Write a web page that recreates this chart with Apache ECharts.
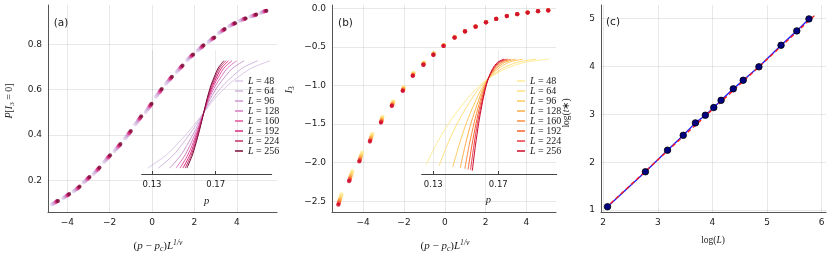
<!DOCTYPE html>
<html><head><meta charset="utf-8">
<script src="https://cdn.jsdelivr.net/npm/echarts@6/dist/echarts.min.js"></script>
<style>html,body{margin:0;padding:0;background:#fff}#c{width:830px;height:253px}</style>
</head><body><div id="c"></div>
<script>
// ---------- data ----------
const Ls = [48, 64, 96, 128, 160, 192, 224, 256];

// panel (a): collapsed P[I3=0] vs (p-pc)L^{1/nu}, [x, y] per L
const aL48  = [[-4.72,0.094],[-4.19,0.122],[-3.70,0.151],[-3.23,0.190],[-2.76,0.228],[-2.26,0.281],[-1.77,0.329],[-1.28,0.384],[-0.79,0.447],[-0.30,0.501],[0.18,0.568],[0.66,0.626],[1.16,0.678],[1.66,0.730],[2.15,0.772],[2.66,0.810],[3.15,0.849],[3.64,0.879],[4.14,0.903],[4.64,0.921],[5.12,0.938]];
const aL64  = [[-4.65,0.098],[-4.12,0.126],[-3.63,0.156],[-3.16,0.196],[-2.69,0.235],[-2.19,0.288],[-1.70,0.337],[-1.21,0.392],[-0.72,0.455],[-0.23,0.511],[0.25,0.576],[0.73,0.634],[1.23,0.685],[1.73,0.737],[2.22,0.778],[2.73,0.815],[3.22,0.853],[3.71,0.883],[4.21,0.906],[4.71,0.924],[5.19,0.941]];
const aL96  = [[-4.59,0.101],[-4.06,0.130],[-3.57,0.160],[-3.10,0.201],[-2.63,0.241],[-2.13,0.295],[-1.64,0.343],[-1.15,0.399],[-0.66,0.463],[-0.17,0.518],[0.31,0.584],[0.79,0.640],[1.29,0.691],[1.79,0.742],[2.28,0.783],[2.79,0.820],[3.28,0.857],[3.77,0.886],[4.27,0.908],[4.77,0.926],[5.25,0.943]];
const aL128 = [[-4.55,0.103],[-4.02,0.132],[-3.53,0.163],[-3.06,0.205],[-2.59,0.245],[-2.09,0.299],[-1.60,0.348],[-1.11,0.404],[-0.62,0.468],[-0.13,0.524],[0.35,0.589],[0.83,0.645],[1.33,0.695],[1.83,0.746],[2.32,0.786],[2.83,0.822],[3.32,0.860],[3.81,0.888],[4.31,0.910],[4.81,0.927],[5.29,0.944]];
const aL160 = [[-4.52,0.105],[-3.99,0.134],[-3.50,0.166],[-3.03,0.207],[-2.56,0.248],[-2.06,0.302],[-1.57,0.351],[-1.08,0.408],[-0.59,0.471],[-0.10,0.527],[0.38,0.592],[0.86,0.648],[1.36,0.698],[1.86,0.748],[2.35,0.788],[2.86,0.825],[3.35,0.862],[3.84,0.889],[4.34,0.911],[4.84,0.928],[5.32,0.945]];
const aL192 = [[-4.50,0.106],[-3.97,0.135],[-3.48,0.167],[-3.01,0.209],[-2.54,0.250],[-2.04,0.304],[-1.55,0.353],[-1.06,0.410],[-0.57,0.474],[-0.08,0.530],[0.40,0.595],[0.88,0.650],[1.38,0.700],[1.88,0.750],[2.37,0.790],[2.88,0.826],[3.37,0.863],[3.86,0.890],[4.36,0.912],[4.86,0.929],[5.34,0.946]];
const aL224 = [[-4.47,0.108],[-3.94,0.137],[-3.45,0.169],[-2.98,0.212],[-2.51,0.253],[-2.01,0.307],[-1.52,0.356],[-1.03,0.414],[-0.54,0.478],[-0.05,0.534],[0.43,0.599],[0.91,0.653],[1.41,0.703],[1.91,0.753],[2.40,0.792],[2.91,0.828],[3.40,0.865],[3.89,0.892],[4.39,0.913],[4.89,0.930],[5.37,0.947]];
const aL256 = [[-4.44,0.109],[-3.91,0.139],[-3.42,0.172],[-2.95,0.214],[-2.48,0.256],[-1.98,0.310],[-1.49,0.360],[-1.00,0.417],[-0.51,0.482],[-0.02,0.538],[0.46,0.603],[0.94,0.657],[1.44,0.706],[1.94,0.755],[2.43,0.795],[2.94,0.830],[3.43,0.867],[3.92,0.893],[4.42,0.914],[4.92,0.931],[5.40,0.948]];

// panel (b): collapsed I3 vs (p-pc)L^{1/nu}, [x, y] per L
const bL48  = [[-5.06,-2.410],[-4.53,-2.110],[-4.05,-1.870],[-3.55,-1.626],[-3.05,-1.405],[-2.52,-1.205],[-2.01,-1.020],[-1.53,-0.836],[-1.02,-0.703],[-0.54,-0.579],[-0.05,-0.473],[0.49,-0.370],[0.99,-0.295],[1.51,-0.235],[2.02,-0.180],[2.52,-0.137],[3.04,-0.099],[3.55,-0.075],[4.06,-0.054],[4.57,-0.036],[5.07,-0.026]];
const bL64  = [[-5.09,-2.434],[-4.56,-2.133],[-4.08,-1.891],[-3.57,-1.644],[-3.07,-1.419],[-2.54,-1.216],[-2.02,-1.029],[-1.54,-0.843],[-1.03,-0.708],[-0.54,-0.584],[-0.05,-0.476],[0.49,-0.372],[0.99,-0.296],[1.51,-0.236],[2.02,-0.180],[2.52,-0.137],[3.04,-0.099],[3.55,-0.075],[4.06,-0.054],[4.57,-0.036],[5.07,-0.026]];
const bL96  = [[-5.12,-2.461],[-4.59,-2.159],[-4.10,-1.914],[-3.60,-1.664],[-3.08,-1.434],[-2.55,-1.228],[-2.03,-1.039],[-1.55,-0.851],[-1.03,-0.714],[-0.55,-0.589],[-0.05,-0.479],[0.49,-0.374],[0.99,-0.297],[1.51,-0.236],[2.02,-0.180],[2.52,-0.137],[3.04,-0.099],[3.55,-0.075],[4.06,-0.054],[4.57,-0.036],[5.07,-0.026]];
const bL128 = [[-5.15,-2.483],[-4.62,-2.180],[-4.13,-1.932],[-3.62,-1.680],[-3.09,-1.446],[-2.56,-1.237],[-2.04,-1.047],[-1.55,-0.858],[-1.04,-0.719],[-0.55,-0.593],[-0.06,-0.481],[0.48,-0.375],[0.99,-0.298],[1.51,-0.237],[2.02,-0.181],[2.52,-0.138],[3.04,-0.100],[3.55,-0.076],[4.06,-0.055],[4.57,-0.037],[5.07,-0.027]];
const bL160 = [[-5.17,-2.502],[-4.64,-2.198],[-4.15,-1.948],[-3.63,-1.694],[-3.10,-1.456],[-2.57,-1.246],[-2.04,-1.054],[-1.56,-0.863],[-1.04,-0.723],[-0.55,-0.596],[-0.06,-0.483],[0.48,-0.377],[0.99,-0.298],[1.51,-0.237],[2.02,-0.181],[2.52,-0.138],[3.04,-0.100],[3.55,-0.076],[4.06,-0.055],[4.57,-0.037],[5.07,-0.027]];
const bL192 = [[-5.19,-2.518],[-4.66,-2.214],[-4.16,-1.962],[-3.65,-1.706],[-3.11,-1.465],[-2.58,-1.253],[-2.05,-1.060],[-1.56,-0.868],[-1.04,-0.727],[-0.56,-0.599],[-0.06,-0.485],[0.48,-0.378],[0.99,-0.299],[1.51,-0.238],[2.02,-0.181],[2.52,-0.138],[3.04,-0.100],[3.55,-0.076],[4.06,-0.055],[4.57,-0.037],[5.07,-0.027]];
const bL224 = [[-5.20,-2.532],[-4.67,-2.227],[-4.18,-1.974],[-3.66,-1.716],[-3.12,-1.473],[-2.59,-1.259],[-2.06,-1.065],[-1.57,-0.872],[-1.05,-0.730],[-0.56,-0.602],[-0.06,-0.487],[0.48,-0.379],[0.99,-0.300],[1.51,-0.238],[2.02,-0.181],[2.52,-0.138],[3.04,-0.100],[3.55,-0.076],[4.06,-0.055],[4.57,-0.037],[5.07,-0.027]];
const bL256 = [[-5.22,-2.545],[-4.69,-2.240],[-4.19,-1.985],[-3.67,-1.726],[-3.13,-1.480],[-2.60,-1.265],[-2.06,-1.070],[-1.57,-0.876],[-1.05,-0.733],[-0.56,-0.604],[-0.06,-0.488],[0.48,-0.380],[0.99,-0.300],[1.51,-0.238],[2.02,-0.181],[2.52,-0.138],[3.04,-0.100],[3.55,-0.076],[4.06,-0.055],[4.57,-0.037],[5.07,-0.027]];

// inset (a): P[I3=0] vs p; shared P levels, p per L
const insetA_P    = [0.106,0.209,0.304,0.410,0.530,0.650,0.750,0.826,0.890,0.946];
const insetA_p48  = [0.1273,0.1390,0.1466,0.1542,0.1619,0.1694,0.1772,0.1850,0.1927,0.2042];
const insetA_p64  = [0.1340,0.1435,0.1496,0.1558,0.1620,0.1681,0.1744,0.1807,0.1869,0.1963];
const insetA_p96  = [0.1411,0.1482,0.1528,0.1575,0.1621,0.1667,0.1715,0.1762,0.1809,0.1879];
const insetA_p128 = [0.1451,0.1508,0.1546,0.1584,0.1622,0.1659,0.1698,0.1737,0.1775,0.1832];
const insetA_p160 = [0.1476,0.1525,0.1558,0.1590,0.1622,0.1654,0.1687,0.1720,0.1753,0.1802];
const insetA_p192 = [0.1494,0.1538,0.1566,0.1594,0.1623,0.1651,0.1680,0.1709,0.1737,0.1780];
const insetA_p224 = [0.1508,0.1547,0.1572,0.1597,0.1623,0.1648,0.1674,0.1700,0.1725,0.1764];
const insetA_p256 = [0.1519,0.1554,0.1577,0.1600,0.1623,0.1646,0.1669,0.1693,0.1716,0.1751];

// inset (b): I3 vs p per L
const insetB_p48  = [0.1256,0.1330,0.1408,0.1487,0.1561,0.1638,0.1749,0.1862,0.2011];
const insetB_p64  = [0.1336,0.1394,0.1456,0.1518,0.1577,0.1638,0.1726,0.1815,0.1933];
const insetB_p96  = [0.1420,0.1463,0.1507,0.1552,0.1594,0.1638,0.1701,0.1765,0.1850];
const insetB_p128 = [0.1466,0.1499,0.1534,0.1570,0.1603,0.1638,0.1688,0.1739,0.1806];
const insetB_p160 = [0.1494,0.1522,0.1552,0.1581,0.1609,0.1638,0.1680,0.1722,0.1778];
const insetB_p192 = [0.1514,0.1538,0.1564,0.1589,0.1613,0.1638,0.1674,0.1710,0.1759];
const insetB_p224 = [0.1529,0.1550,0.1572,0.1595,0.1616,0.1638,0.1670,0.1702,0.1745];
const insetB_p256 = [0.1540,0.1559,0.1579,0.1599,0.1618,0.1638,0.1666,0.1695,0.1734];
const insetB_I48  = [-2.410,-1.870,-1.405,-1.020,-0.703,-0.465,-0.235,-0.100,-0.027];
const insetB_I64  = [-2.434,-1.891,-1.419,-1.029,-0.708,-0.466,-0.236,-0.100,-0.027];
const insetB_I96  = [-2.461,-1.914,-1.434,-1.039,-0.714,-0.467,-0.236,-0.100,-0.027];
const insetB_I128 = [-2.483,-1.932,-1.446,-1.047,-0.719,-0.468,-0.237,-0.100,-0.027];
const insetB_I160 = [-2.502,-1.948,-1.456,-1.054,-0.723,-0.468,-0.237,-0.100,-0.027];
const insetB_I192 = [-2.518,-1.962,-1.465,-1.060,-0.727,-0.469,-0.237,-0.100,-0.027];
const insetB_I224 = [-2.532,-1.974,-1.473,-1.065,-0.730,-0.469,-0.238,-0.100,-0.027];
const insetB_I256 = [-2.545,-1.985,-1.480,-1.070,-0.733,-0.470,-0.238,-0.100,-0.027];

// panel (c): log(t*) vs log(L)
const logL     = [2.079,2.773,3.178,3.466,3.689,3.871,4.025,4.159,4.382,4.564,4.852,5.257,5.545,5.768];
const logTstar = [1.07,1.80,2.25,2.56,2.82,2.98,3.14,3.29,3.53,3.71,3.99,4.44,4.74,4.99];
const fitX = [2.04, 5.90];
const fitY = [1.04, 5.09];

const insetTicks = [0.13, 0.17];

// ---------- styling ----------
const colorsA = ['#dccae8','#d1b5dd','#cc99d0','#d879c1','#e2529e','#d8287c','#c0306a','#7a0c3a'];
const colorsB = ['#ffec9a','#fee07e','#fec95e','#feac48','#fd8e40','#f8602e','#e8384a','#cc0a2a'];
const SANS = 'DejaVu Sans';
const SERIF = 'Liberation Serif';
const TXT = '#1a1a1a';

const aSets = [aL48,aL64,aL96,aL128,aL160,aL192,aL224,aL256];
const bSets = [bL48,bL64,bL96,bL128,bL160,bL192,bL224,bL256];
const iaP = [insetA_p48,insetA_p64,insetA_p96,insetA_p128,insetA_p160,insetA_p192,insetA_p224,insetA_p256];
const ibP = [insetB_p48,insetB_p64,insetB_p96,insetB_p128,insetB_p160,insetB_p192,insetB_p224,insetB_p256];
const ibI = [insetB_I48,insetB_I64,insetB_I96,insetB_I128,insetB_I160,insetB_I192,insetB_I224,insetB_I256];

function fmt(d){ return v => (v < 0 ? '\u2212' : '') + Math.abs(v).toFixed(d); }

function mainAxis(grid, min, max, dec){
  return {type:'value', gridIndex:grid, min:min, max:max,
    axisLine:{show:true, onZero:false, lineStyle:{color:'#555', width:1}},
    axisTick:{show:false},
    axisLabel:{showMinLabel:false, showMaxLabel:false, fontFamily:SANS, fontSize:9, color:TXT, margin:6, formatter:fmt(dec)},
    splitLine:{show:true, showMinLine:false, showMaxLine:false, lineStyle:{color:'rgba(0,0,0,0.09)', width:1}}
  };
}
function insetX(grid, min, max){
  return {type:'value', gridIndex:grid, min:min, max:max,
    axisLine:{show:true, onZero:false, lineStyle:{color:'#444', width:1}},
    axisTick:{show:true, inside:true, length:3, customValues:insetTicks, lineStyle:{color:'#444'}},
    axisLabel:{customValues:insetTicks, fontFamily:SANS, fontSize:8.5, color:TXT, margin:6, formatter:fmt(2)},
    splitLine:{show:false}
  };
}
function hiddenY(grid, min, max){
  return {type:'value', gridIndex:grid, min:min, max:max, show:false, splitLine:{show:false}};
}

const series = [];
Ls.forEach((L,i) => {
  series.push({type:'scatter', name:'sa'+L, xAxisIndex:0, yAxisIndex:0, data:aSets[i], symbol:'circle', symbolSize:4, itemStyle:{color:colorsA[i]}, silent:true, z:3});
});
Ls.forEach((L,i) => {
  series.push({type:'scatter', name:'sb'+L, xAxisIndex:2, yAxisIndex:2, data:bSets[i], symbol:'circle', symbolSize:4.2, itemStyle:{color:colorsB[i]}, silent:true, z:3});
});
const gridMark = {silent:true, symbol:'none', label:{show:false}, lineStyle:{color:'rgba(0,0,0,0.08)', type:'solid', width:1}, data:[{xAxis:0.13},{xAxis:0.17}]};
Ls.forEach((L,i) => {
  const s = {type:'line', name:'a'+L, xAxisIndex:1, yAxisIndex:1, data:iaP[i].map((p,j)=>[p, insetA_P[j]]), showSymbol:false, smooth:0.3, lineStyle:{color:colorsA[i], width:1}, itemStyle:{color:colorsA[i]}, silent:true, z:4};
  if (i === 0) s.markLine = gridMark;
  series.push(s);
});
Ls.forEach((L,i) => {
  const s = {type:'line', name:'b'+L, xAxisIndex:3, yAxisIndex:3, data:ibP[i].map((p,j)=>[p, ibI[i][j]]), showSymbol:false, smooth:0.3, lineStyle:{color:colorsB[i], width:1}, itemStyle:{color:colorsB[i]}, silent:true, z:4};
  if (i === 0) s.markLine = gridMark;
  series.push(s);
});
series.push({type:'line', xAxisIndex:4, yAxisIndex:4, data:logL.map((x,j)=>[x, logTstar[j]]), showSymbol:false, lineStyle:{color:'#1f1fff', width:1.4}, silent:true, z:3});
series.push({type:'line', xAxisIndex:4, yAxisIndex:4, data:fitX.map((x,j)=>[x, fitY[j]]), showSymbol:false, lineStyle:{color:'#ff1a1a', width:1.4, type:[4,3]}, silent:true, z:4});
series.push({type:'scatter', xAxisIndex:4, yAxisIndex:4, data:logL.map((x,j)=>[x, logTstar[j]]), symbol:'circle', symbolSize:6.5, itemStyle:{color:'#000080', borderColor:'#000', borderWidth:0.8, opacity:1}, silent:true, z:5});

function legendFor(prefix, left){
  return {data:Ls.map(L=>prefix+L), orient:'vertical', left:left, top:76, padding:0, itemGap:0,
    itemWidth:8, itemHeight:1.5, icon:'rect', selectedMode:false,
    formatter: n => '{i|L}{n| = ' + n.slice(1) + '}',
    textStyle:{fontFamily:SERIF, fontSize:10, lineHeight:9.3, color:TXT,
      rich:{i:{fontFamily:SERIF, fontStyle:'italic', fontSize:10, lineHeight:9.3, color:TXT},
            n:{fontFamily:SERIF, fontSize:10, lineHeight:9.3, color:TXT}}}
  };
}

function makeRich(fs){
  const ss = Math.round(fs * 0.7 * 10) / 10;
  return {
    t:{fontFamily:SERIF, fontSize:fs, lineHeight:fs*1.3, fill:TXT, color:TXT},
    i:{fontFamily:SERIF, fontStyle:'italic', fontSize:fs, lineHeight:fs*1.3, fill:TXT, color:TXT},
    s:{fontFamily:SERIF, fontSize:ss, lineHeight:ss, verticalAlign:'bottom', fill:TXT, color:TXT},
    si:{fontFamily:SERIF, fontStyle:'italic', fontSize:ss, lineHeight:ss, verticalAlign:'bottom', fill:TXT, color:TXT},
    u:{fontFamily:SERIF, fontStyle:'italic', fontSize:ss, lineHeight:ss, verticalAlign:'top', fill:TXT, color:TXT}
  };
}
function rtext(x, y, text, fs, rot){
  return {type:'text', x:x, y:y, rotation:rot||0, silent:true,
    style:{text:text, rich:makeRich(fs), align:'center', verticalAlign:'middle', textAlign:'center', textVerticalAlign:'middle', fill:TXT, fontFamily:SERIF, fontSize:fs}};
}
function ptext(x, y, text){
  return {type:'text', x:x, y:y, silent:true,
    style:{text:text, fontFamily:SANS, fontSize:10.5, fill:TXT, align:'center', verticalAlign:'middle', textAlign:'center', textVerticalAlign:'middle'}};
}
const xTitle = '{t|(}{i|p}{t| \u2212 }{i|p}{si|c}{t|)}{i|L}{u|1/\u03bd}';

const option = {
  animation:false,
  backgroundColor:'#ffffff',
  grid:[
    {left:48, top:5, width:229, height:207},
    {left:141.7, top:50, width:130, height:124},
    {left:332, top:5, width:224, height:207},
    {left:421.7, top:50, width:135, height:124},
    {left:601, top:5, width:225, height:207}
  ],
  xAxis:[
    mainAxis(0, -4.91, 5.9, 0),
    insetX(1, 0.12353, 0.20517),
    mainAxis(2, -5.527, 5.45, 0),
    insetX(3, 0.12286, 0.20594),
    mainAxis(4, 1.96, 6.08, 0)
  ],
  yAxis:[
    mainAxis(0, 0.06, 0.973, 1),
    hiddenY(1, 0.06, 1.03),
    mainAxis(2, -2.639, 0.043, 1),
    hiddenY(3, -2.62, 0.18),
    mainAxis(4, 0.96, 5.28, 0)
  ],
  legend:[legendFor('a', 235), legendFor('b', 517)],
  series:series,
  graphic:[
    ptext(61, 23, '(a)'), ptext(345.5, 23, '(b)'), ptext(613, 22.5, '(c)'),
    rtext(158, 246, xTitle, 11),
    rtext(445, 246, xTitle, 11),
    rtext(713, 240, '{t|log(}{i|L}{t|)}', 9.5),
    rtext(9, 101, '{i|P}{t|[}{i|I}{s|3}{t| = 0]}', 10, Math.PI/2),
    rtext(289, 90, '{i|I}{s|3}', 10.5, Math.PI/2),
    rtext(566, 113, '{t|log(}{i|t}{t|\u2217)}', 9.5, Math.PI/2),
    rtext(206.7, 201, '{i|p}', 10.5),
    rtext(488.3, 200, '{i|p}', 10.5)
  ]
};
const chart = echarts.init(document.getElementById('c'));
chart.setOption(option);
</script>
</body></html>
